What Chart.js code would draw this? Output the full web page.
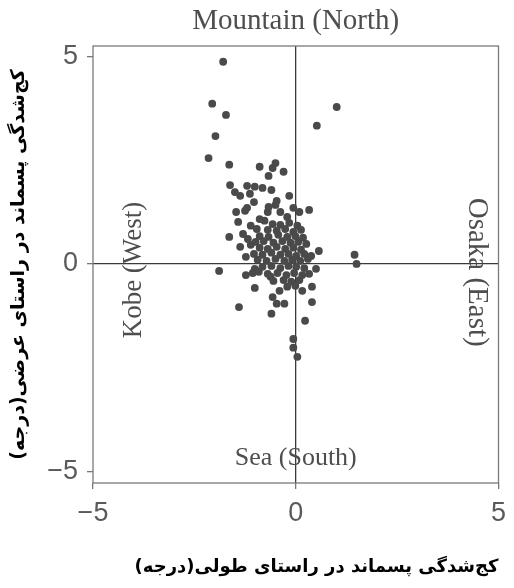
<!DOCTYPE html>
<html><head><meta charset="utf-8">
<script src="https://cdn.jsdelivr.net/npm/chart.js@4"></script>
<style>html,body{margin:0;padding:0;background:#fff}#wrap{width:514px;height:588px}</style>
</head><body><div id="wrap"><canvas id="c" width="514" height="588"></canvas></div>
<script>
// Residual tilt data (degrees)
const xValues = [
 -1.79,-2.06,-1.72,-1.98,-2.15,-1.64,0.52,1.01,-0.89,-0.57,-0.50,-0.30,-0.67,-1.62,-1.20,-0.82,-1.01,-0.60,-1.50,-1.13,
 -1.37,-1.03,-1.20,-0.47,-0.50,-0.67,-0.06,0.09,0.33,-1.47,-1.25,-0.69,-0.38,-0.21,-1.42,-1.11,-0.89,-0.77,-0.96,-1.64,
 -1.37,-1.11,0.57,1.45,1.50,-1.89,-1.23,-1.06,-0.91,-0.62,-1.01,-0.40,-0.57,-0.47,-0.28,-1.40,-0.60,0.40,0.40,0.23,
 0.50,0.16,-0.06,-0.06,0.04,
 -0.57,-0.38,-0.16,0.04,-0.69,-0.47,-0.26,-0.06,0.13,-0.89,-0.67,-0.43,-0.21,-0.01,0.18,-0.99,-0.79,-0.55,-0.33,-0.13,
 0.06,0.26,-0.89,-0.69,-0.47,-0.26,-0.06,0.13,-1.03,-0.82,-0.60,-0.38,-0.18,0.01,0.21,0.38,-0.94,-0.72,-0.50,-0.28,
 -0.09,0.11,0.30,-0.82,-0.60,-0.38,-0.18,0.01,0.21,-0.69,-0.45,-0.23,-0.04,0.16,0.33,-0.55,-0.30,-0.11,0.09,-0.21,
 -0.01,-1.30,-1.18,-1.23,-1.01,-0.16
];
const yValues = [
 4.87,3.86,3.59,3.08,2.55,2.39,3.33,3.78,2.34,2.31,2.43,2.22,2.12,1.90,1.88,1.83,1.86,1.78,1.73,1.69,
 1.64,1.49,1.35,1.52,1.42,1.37,1.35,1.25,1.30,1.25,1.28,1.25,1.25,1.13,1.01,0.92,1.08,1.04,0.84,0.65,
 0.41,0.46,0.31,0.22,0.00,-0.17,-0.27,-0.22,-0.19,-0.31,-0.58,-0.65,-0.80,-0.96,-0.96,-1.04,-1.20,-0.55,-0.92,-1.37,
 -0.12,-0.65,-1.81,-2.02,-2.24,
 0.96,0.94,0.99,0.92,0.82,0.80,0.84,0.77,0.82,0.67,0.65,0.70,0.65,0.67,0.63,0.53,0.55,0.51,0.55,0.51,
 0.53,0.48,0.39,0.36,0.41,0.36,0.39,0.34,0.24,0.22,0.27,0.22,0.24,0.19,0.24,0.19,0.10,0.07,0.12,0.07,
 0.10,0.07,0.12,-0.07,-0.05,-0.10,-0.05,-0.07,-0.10,-0.24,-0.22,-0.27,-0.22,-0.27,-0.24,-0.41,-0.39,-0.43,-0.39,-0.55,
 -0.53,0.72,0.60,0.17,-0.12,1.64
];
const xTickValues = [-5, 0, 5];
const yTickValues = [-5, 0, 5];
const xTitle = 'کج\u200cشدگی پسماند در راستای طولی(درجه)\u200f';
const yTitle = 'کج\u200cشدگی پسماند در راستای عرضی(درجه)\u200f';
const northLabel = 'Mountain (North)';
const southLabel = 'Sea (South)';
const westLabel = 'Kobe (West)';
const eastLabel = 'Osaka (East)';

const points = xValues.map((x, i) => ({x: x, y: yValues[i]}));

const tickFont = {family: "'Liberation Sans Narrow', 'Liberation Sans', Arial, sans-serif", size: 27};
const zeroGrid = ctx => (ctx.tick && ctx.tick.value === 0) ? '#3a3a3a' : 'rgba(0,0,0,0)';
const serif = "'Liberation Serif', 'Times New Roman', serif";

const framePlugin = {
  id: 'frameAndLabels',
  afterDraw(chart) {
    const {ctx, chartArea: a, scales: {x, y}} = chart;
    ctx.save();
    ctx.strokeStyle = '#7a7a7a';
    ctx.lineWidth = 1.3;
    ctx.strokeRect(a.left, a.top, a.right - a.left, a.bottom - a.top);
    ctx.fillStyle = '#4e4e4e';
    ctx.textAlign = 'center';
    ctx.textBaseline = 'middle';
    const cx = x.getPixelForValue(0);
    ctx.font = "29px " + serif;
    ctx.fillText(northLabel, cx, a.top - 25);
    ctx.font = "26px " + serif;
    ctx.fillText(southLabel, cx, a.bottom - 25);
    ctx.font = "27px " + serif;
    ctx.save();
    ctx.translate(x.getPixelForValue(-3.98), y.getPixelForValue(-0.15));
    ctx.rotate(-Math.PI / 2);
    ctx.fillText(westLabel, 0, 0);
    ctx.restore();
    ctx.font = "29px " + serif;
    ctx.save();
    ctx.translate(x.getPixelForValue(4.47), y.getPixelForValue(-0.2));
    ctx.rotate(Math.PI / 2);
    ctx.fillText(eastLabel, 0, 0);
    ctx.restore();
    ctx.restore();
  }
};

new Chart(document.getElementById('c'), {
  type: 'scatter',
  data: {datasets: [{
    data: points,
    pointRadius: 3.9,
    pointHoverRadius: 3.9,
    pointBackgroundColor: '#4a4a4a',
    pointBorderWidth: 0,
    borderWidth: 0
  }]},
  options: {
    responsive: false,
    animation: false,
    devicePixelRatio: 1,
    layout: {padding: {top: 46, right: 10, left: 0, bottom: 0}},
    plugins: {legend: {display: false}, tooltip: {enabled: false}},
    scales: {
      x: {
        type: 'linear', min: -5, max: 5,
        afterBuildTicks: s => { s.ticks = xTickValues.map(v => ({value: v})); },
        afterFit: s => { s.height = 105; },
        grid: {color: zeroGrid, lineWidth: 1.3, tickColor: '#777', tickLength: 6, drawTicks: true},
        border: {display: false},
        ticks: {font: tickFont, color: '#5a5a5a', padding: 8, maxRotation: 0, callback: v => v < 0 ? '\u2212' + Math.abs(v) : String(v)},
        title: {display: true, text: xTitle, align: 'end', font: {family: "'DejaVu Sans', sans-serif", size: 18, weight: 'bold'}, color: '#000', padding: {top: 0, bottom: 10}}
      },
      y: {
        type: 'linear', min: -5.28, max: 5.25,
        afterBuildTicks: s => { s.ticks = yTickValues.map(v => ({value: v})); },
        afterFit: s => { s.width = 93; },
        grid: {color: zeroGrid, lineWidth: 1.3, tickColor: '#777', tickLength: 6, drawTicks: true},
        border: {display: false},
        ticks: {font: tickFont, color: '#5a5a5a', padding: 9, callback: v => v < 0 ? '\u2212' + Math.abs(v) : String(v)},
        title: {display: true, text: yTitle, font: {family: "'DejaVu Sans', sans-serif", size: 19, weight: 'bold'}, color: '#000', padding: {top: 8, bottom: 0}}
      }
    }
  },
  plugins: [framePlugin]
});
</script></body></html>
